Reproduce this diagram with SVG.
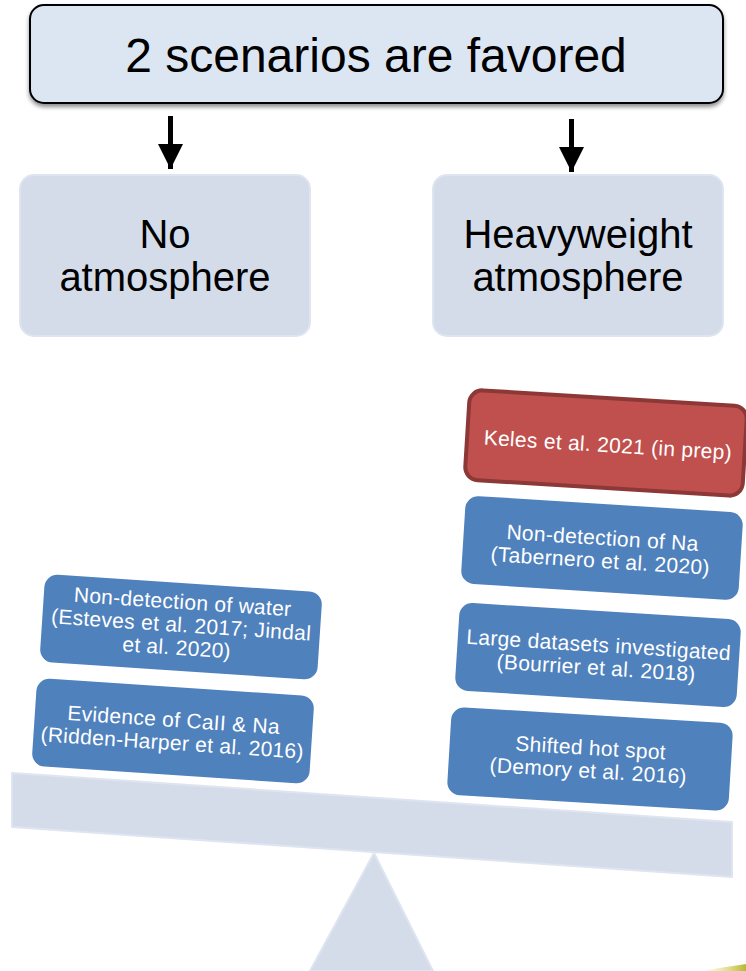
<svg xmlns="http://www.w3.org/2000/svg" width="746" height="971" viewBox="0 0 746 971">
<defs>
<filter id="sh" x="-5%" y="-10%" width="110%" height="130%"><feDropShadow dx="0" dy="3" stdDeviation="2" flood-color="#000" flood-opacity="0.45"/></filter>
<marker id="ah" viewBox="0 0 10 10" refX="10" refY="5" markerWidth="5" markerHeight="5" orient="auto" markerUnits="strokeWidth"><path d="M0,0 L10,5 L0,10 z" fill="#000"/></marker>
<linearGradient id="yg" x1="0" y1="0" x2="1" y2="0"><stop offset="0" stop-color="#e8e070" stop-opacity="0"/><stop offset="1" stop-color="#b8b830"/></linearGradient>
</defs>
<style>
.title{font-family:"Liberation Sans",Arial,sans-serif;font-size:48px;fill:#000;text-anchor:middle}
.big{font-family:"Liberation Sans",Arial,sans-serif;font-size:40px;fill:#000;text-anchor:middle}
.sc{fill:#d4dcea;stroke:#dfe5f0;stroke-width:2}
.blue{fill:#4f81bd;stroke:none}
.red{fill:#c0504d;stroke:#8c3836;stroke-width:4}
.t{font-family:"Liberation Sans",Arial,sans-serif;font-size:21px;fill:#fff;text-anchor:middle;letter-spacing:0.3px}
</style>
<g id="scale">
<polygon class="sc" points="374,853 310,971 433,971"/>
<polygon class="sc" points="12,773 732,822 732,877 12,827" stroke-linejoin="round"/>
</g>
<polygon points="700,971 746,964 746,971" fill="url(#yg)"/>
<g id="title">
<rect x="30" y="5" width="693" height="98" rx="14" fill="#dce6f2" stroke="#000" stroke-width="2" filter="url(#sh)"/>
<text class="title" x="376" y="72">2 scenarios are favored</text>
</g>
<g id="connectors">
<line x1="170.5" y1="116" x2="170.5" y2="169" stroke="#000" stroke-width="5" marker-end="url(#ah)"/>
<line x1="571.5" y1="119" x2="571.5" y2="172" stroke="#000" stroke-width="5" marker-end="url(#ah)"/>
</g>
<g id="no-atm">
<rect x="20" y="175" width="290" height="161" rx="14" fill="#d4dcea" stroke="#dfe5f0" stroke-width="2"/>
<text class="big" x="165" y="248">No</text>
<text class="big" x="165" y="291">atmosphere</text>
</g>
<g id="heavy-atm">
<rect x="433" y="175" width="290" height="161" rx="14" fill="#d4dcea" stroke="#dfe5f0" stroke-width="2"/>
<text class="big" x="578" y="248">Heavyweight</text>
<text class="big" x="578" y="291">atmosphere</text>
</g>
<g id="water" transform="rotate(3.8 181 627)">
<rect class="blue" x="42" y="583" width="278" height="88" rx="13"/>
<text class="t" x="181" y="609">Non-detection  of water</text>
<text class="t" x="181" y="632">(Esteves et al. 2017; Jindal</text>
<text class="t" x="178" y="655">et al. 2020)</text>
</g>
<g id="caII" transform="rotate(3.8 173 731)">
<rect class="blue" x="34" y="687" width="278" height="88" rx="13"/>
<text class="t" x="173" y="727">Evidence  of CaII &amp; Na</text>
<text class="t" x="173" y="750">(Ridden-Harper  et al. 2016)</text>
</g>
<g id="keles" transform="rotate(3.5 606 443)">
<rect class="red" x="467" y="398" width="278" height="90" rx="13"/>
<text class="t" x="608" y="452">Keles  et al. 2021  (in prep)</text>
</g>
<g id="na" transform="rotate(3.6 602 548)">
<rect class="blue" x="463" y="504" width="278" height="88" rx="13"/>
<text class="t" x="602" y="545">Non-detection  of  Na</text>
<text class="t" x="601" y="568">(Tabernero  et al. 2020)</text>
</g>
<g id="large" transform="rotate(3.6 598 655)">
<rect class="blue" x="457" y="611" width="282" height="88" rx="13"/>
<text class="t" x="598" y="652">Large datasets investigated</text>
<text class="t" x="597" y="675">(Bourrier et al. 2018)</text>
</g>
<g id="hotspot" transform="rotate(3.4 590 759)">
<rect class="blue" x="449" y="715" width="282" height="88" rx="13"/>
<text class="t" x="590" y="755">Shifted hot spot</text>
<text class="t" x="589" y="778">(Demory et al. 2016)</text>
</g>
</svg>
